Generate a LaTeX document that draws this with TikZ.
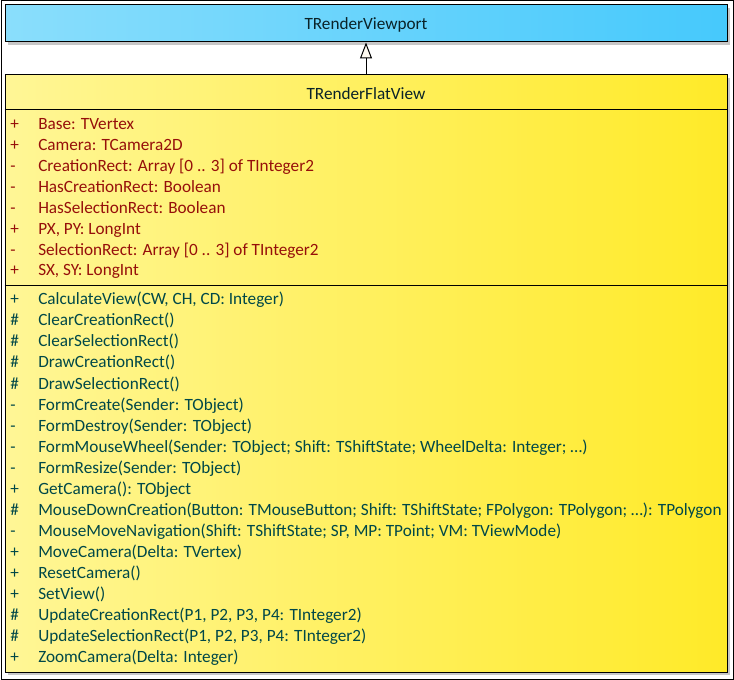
\documentclass[tikz,border=0pt]{standalone}
\usepackage{fontspec}
\setmainfont{Carlito}
\usetikzlibrary{arrows.meta,shadows}
\definecolor{attrc}{RGB}{150,15,10}
\definecolor{methc}{RGB}{0,72,72}
\definecolor{ttlc}{RGB}{10,35,40}
\definecolor{blueL}{RGB}{138,222,252}
\definecolor{blueR}{RGB}{70,201,252}
\definecolor{yelL}{RGB}{255,246,150}
\definecolor{yelR}{RGB}{255,234,40}
\definecolor{ivoryc}{RGB}{255,250,240}
\tikzset{
  umlbox/.style={draw=black, line width=0.75pt, rectangle, inner sep=0pt,
    minimum width=541.5pt,
    drop shadow={shadow xshift=2.6pt, shadow yshift=-2.6pt, fill=black!22, opacity=1}},
  ttl/.style={anchor=base, text=ttlc, inner sep=0pt},
  vis/.style={anchor=base west, inner sep=0pt},
  mem/.style={anchor=base west, inner sep=0pt},
  attr/.style={text=attrc},
  meth/.style={text=methc},
  sep/.style={draw=black, line width=0.75pt},
  inherit/.style={draw=black, line width=0.75pt,
    -{Triangle[length=12pt, width=9pt, fill=ivoryc]}}
}
\begin{document}
\begin{tikzpicture}[x=0.75pt, y=-0.75pt, font=\fontsize{12.9}{15}\selectfont]
\path[use as bounding box] (0,0) rectangle (734,680);
\draw[line width=0.75pt] (1,1) rectangle (733,679);

\node[umlbox, left color=blueL, right color=blueR, minimum height=27.75pt] (vp) at (366,23.5) {};
\node[umlbox, left color=yelL, right color=yelR, minimum height=447.75pt] (fv) at (366,373.5) {};

\node[ttl] (vpt) at (366,29.5) {TRenderViewport};
\node[ttl] (fvt) at (366,99.5) {TRenderFlatView};

\coordinate (s1) at (0,110);
\coordinate (s2) at (0,286);
\draw[sep] (fv.west |- s1) -- (fv.east |- s1);
\draw[sep] (fv.west |- s2) -- (fv.east |- s2);

\draw[inherit] (fv.north) -- (vp.south);

% attributes
\node[vis,attr] (av1) at (10,130) {+};   \node[mem,attr] (a1) at (38,130) {Base: TVertex};
\node[vis,attr] (av2) at (10,151) {+};   \node[mem,attr] (a2) at (38,151) {Camera: TCamera2D};
\node[vis,attr] (av3) at (10,172) {-};   \node[mem,attr] (a3) at (38,172) {CreationRect: Array [0 .. 3] of TInteger2};
\node[vis,attr] (av4) at (10,193) {-};   \node[mem,attr] (a4) at (38,193) {HasCreationRect: Boolean};
\node[vis,attr] (av5) at (10,214) {-};   \node[mem,attr] (a5) at (38,214) {HasSelectionRect: Boolean};
\node[vis,attr] (av6) at (10,234.5) {+}; \node[mem,attr] (a6) at (38,234.5) {PX, PY: LongInt};
\node[vis,attr] (av7) at (10,255.5) {-}; \node[mem,attr] (a7) at (38,255.5) {SelectionRect: Array [0 .. 3] of TInteger2};
\node[vis,attr] (av8) at (10,276) {+};   \node[mem,attr] (a8) at (38,276) {SX, SY: LongInt};

% methods
\node[vis,meth] (mv1) at (10,305) {+};  \node[mem,meth] (m1) at (38,305) {CalculateView(CW, CH, CD: Integer)};
\node[vis,meth] (mv2) at (10,326) {\#}; \node[mem,meth] (m2) at (38,326) {ClearCreationRect()};
\node[vis,meth] (mv3) at (10,347) {\#}; \node[mem,meth] (m3) at (38,347) {ClearSelectionRect()};
\node[vis,meth] (mv4) at (10,368) {\#}; \node[mem,meth] (m4) at (38,368) {DrawCreationRect()};
\node[vis,meth] (mv5) at (10,389) {\#}; \node[mem,meth] (m5) at (38,389) {DrawSelectionRect()};
\node[vis,meth] (mv6) at (10,410) {-};  \node[mem,meth] (m6) at (38,410) {FormCreate(Sender: TObject)};
\node[vis,meth] (mv7) at (10,431) {-};  \node[mem,meth] (m7) at (38,431) {FormDestroy(Sender: TObject)};
\node[vis,meth] (mv8) at (10,452) {-};  \node[mem,meth] (m8) at (38,452) {FormMouseWheel(Sender: TObject; Shift: TShiftState; WheelDelta: Integer; …)};
\node[vis,meth] (mv9) at (10,473) {-};  \node[mem,meth] (m9) at (38,473) {FormResize(Sender: TObject)};
\node[vis,meth] (mv10) at (10,494) {+}; \node[mem,meth] (m10) at (38,494) {GetCamera(): TObject};
\node[vis,meth] (mv11) at (10,515) {\#};\node[mem,meth] (m11) at (38,515) {MouseDownCreation(Button: TMouseButton; Shift: TShiftState; FPolygon: TPolygon; …): TPolygon};
\node[vis,meth] (mv12) at (10,536) {-}; \node[mem,meth] (m12) at (38,536) {MouseMoveNavigation(Shift: TShiftState; SP, MP: TPoint; VM: TViewMode)};
\node[vis,meth] (mv13) at (10,557) {+}; \node[mem,meth] (m13) at (38,557) {MoveCamera(Delta: TVertex)};
\node[vis,meth] (mv14) at (10,578) {+}; \node[mem,meth] (m14) at (38,578) {ResetCamera()};
\node[vis,meth] (mv15) at (10,599) {+}; \node[mem,meth] (m15) at (38,599) {SetView()};
\node[vis,meth] (mv16) at (10,620) {\#};\node[mem,meth] (m16) at (38,620) {UpdateCreationRect(P1, P2, P3, P4: TInteger2)};
\node[vis,meth] (mv17) at (10,641) {\#};\node[mem,meth] (m17) at (38,641) {UpdateSelectionRect(P1, P2, P3, P4: TInteger2)};
\node[vis,meth] (mv18) at (10,662) {+}; \node[mem,meth] (m18) at (38,662) {ZoomCamera(Delta: Integer)};
\end{tikzpicture}
\end{document}
